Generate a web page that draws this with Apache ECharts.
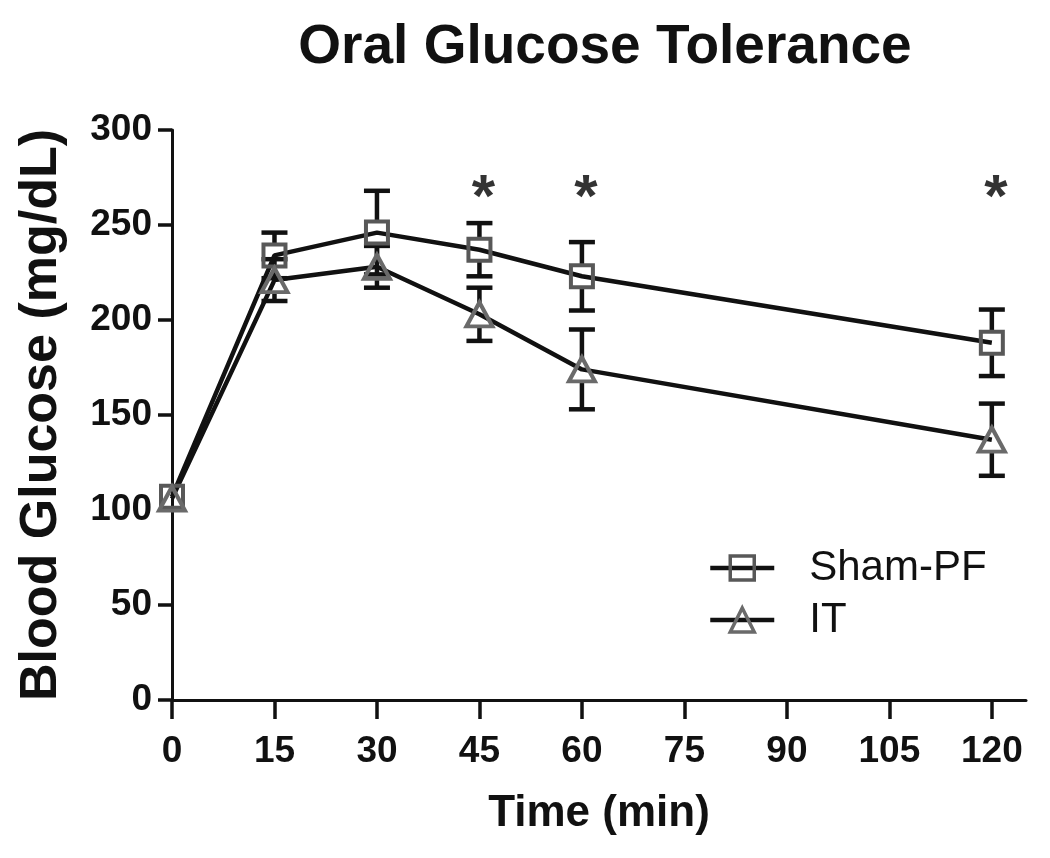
<!DOCTYPE html>
<html>
<head>
<meta charset="utf-8">
<script src="https://cdn.jsdelivr.net/npm/echarts@6/dist/echarts.min.js"></script>
<style>html,body{margin:0;padding:0;background:#fff;}#c{width:1050px;height:858px;}</style>
</head>
<body>
<div id="c"></div>
<script>
var timePoints = [0, 15, 30, 45, 60, 120];
var shamMean = [107, 234, 246, 237, 223, 188];
var shamSem  = [4, 12, 22, 14, 18, 17.5];
var itMean   = [106, 221, 228, 203, 174, 137];
var itSem    = [4, 11, 11, 14, 21, 19];
var starTimes = [45, 60, 120];
var starLevel = 270;
var xTicks = [0, 15, 30, 45, 60, 75, 90, 105, 120];

var FONT = '"Liberation Sans", Arial, sans-serif';
var chart = echarts.init(document.getElementById('c'), null, {renderer: 'canvas'});

function pairs(xs, ys) { return xs.map(function (x, i) { return [x, ys[i]]; }); }
function errData(xs, m, s) { return xs.map(function (x, i) { return [x, m[i], s[i]]; }); }

function errRender(halfGap) {
  return function (params, api) {
    var x = api.value(0), m = api.value(1), s = api.value(2);
    var c = api.coord([x, m]);
    var top = api.coord([x, m + s])[1];
    var bot = api.coord([x, m - s])[1];
    var cap = 13;
    var st = {stroke: '#111', lineWidth: 4.5};
    var children = [];
    if (c[1] - halfGap > top) {
      children.push({type: 'line', shape: {x1: c[0], y1: top, x2: c[0], y2: c[1] - halfGap}, style: st});
      children.push({type: 'line', shape: {x1: c[0] - cap, y1: top, x2: c[0] + cap, y2: top}, style: st});
    }
    if (bot > c[1] + halfGap) {
      children.push({type: 'line', shape: {x1: c[0], y1: c[1] + halfGap, x2: c[0], y2: bot}, style: st});
      children.push({type: 'line', shape: {x1: c[0] - cap, y1: bot, x2: c[0] + cap, y2: bot}, style: st});
    }
    return {type: 'group', children: children};
  };
}

var option = {
  animation: false,
  backgroundColor: '#fff',
  title: {
    text: 'Oral Glucose Tolerance',
    left: 600, top: 15, textAlign: 'center',
    textStyle: {fontFamily: FONT, fontWeight: 'bold', fontSize: 55, color: '#111'}
  },
  legend: {
    orient: 'vertical', left: 703, top: 542,
    itemWidth: 64, itemHeight: 30, itemGap: 10,
    data: ['Sham-PF', 'IT'],
    lineStyle: {width: 4.5, color: '#111'},
    itemStyle: {borderWidth: 3.5},
    textStyle: {fontFamily: FONT, fontSize: 42, color: '#111', padding: [0, 0, 0, 30]}
  },
  grid: {left: 172, right: 24, top: 130, bottom: 158, containLabel: false},
  xAxis: {
    type: 'value', min: 0, max: 125,
    name: 'Time (min)', nameLocation: 'middle', nameGap: 92,
    nameTextStyle: {fontFamily: FONT, fontWeight: 'bold', fontSize: 44, color: '#111'},
    axisLine: {onZero: false, lineStyle: {color: '#111', width: 3}},
    axisTick: {show: true, length: 19, lineStyle: {color: '#111', width: 3.5}, customValues: xTicks},
    axisLabel: {fontFamily: FONT, fontWeight: 'bold', fontSize: 37, color: '#111', margin: 33, customValues: xTicks},
    splitLine: {show: false}
  },
  yAxis: {
    type: 'value', min: 0, max: 300, interval: 50,
    name: 'Blood Glucose (mg/dL)', nameLocation: 'middle', nameGap: 104,
    nameTextStyle: {fontFamily: FONT, fontWeight: 'bold', fontSize: 52, color: '#111'},
    axisLine: {show: true, lineStyle: {color: '#111', width: 3}},
    axisTick: {show: true, length: 14, lineStyle: {color: '#111', width: 3.5}},
    axisLabel: {fontFamily: FONT, fontWeight: 'bold', fontSize: 37, color: '#111', margin: 20},
    splitLine: {show: false}
  },
  series: [
    {
      type: 'custom', name: 'errSham', renderItem: errRender(12),
      data: errData(timePoints, shamMean, shamSem), z: 1, silent: true,
      encode: {x: 0, y: 1}
    },
    {
      type: 'custom', name: 'errIT', renderItem: errRender(11),
      data: errData(timePoints, itMean, itSem), z: 1, silent: true,
      encode: {x: 0, y: 1}
    },
    {
      type: 'line', name: 'Sham-PF', data: pairs(timePoints, shamMean), z: 3,
      symbol: 'rect', symbolSize: [22, 22], showAllSymbol: true,
      lineStyle: {color: '#111', width: 4.5},
      itemStyle: {color: 'rgba(255,255,255,0)', borderColor: '#585858', borderWidth: 4}
    },
    {
      type: 'line', name: 'IT', data: pairs(timePoints, itMean), z: 3,
      symbol: 'triangle', symbolSize: [26, 24], showAllSymbol: true,
      lineStyle: {color: '#111', width: 4.5},
      itemStyle: {color: 'rgba(255,255,255,0)', borderColor: '#6a6a6a', borderWidth: 4}
    },
    {
      type: 'scatter', name: 'stars', symbolSize: 1, silent: true, z: 4,
      itemStyle: {color: 'rgba(0,0,0,0)'},
      data: starTimes.map(function (t) { return [t, starLevel]; }),
      label: {show: true, formatter: '*', position: 'inside', offset: [4, 12],
              fontFamily: FONT, fontWeight: 'bold', fontSize: 60, color: '#000'}
    }
  ]
};
chart.setOption(option);
</script>
</body>
</html>
